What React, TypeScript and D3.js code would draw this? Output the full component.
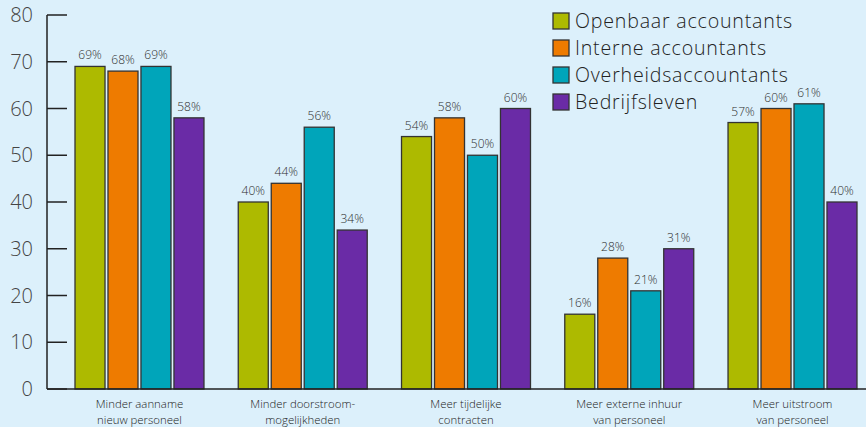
import React from "react";
import * as d3 from "d3";

const categories = [
  ["Minder aanname", "nieuw personeel"],
  ["Minder doorstroom-", "mogelijkheden"],
  ["Meer tijdelijke", "contracten"],
  ["Meer externe inhuur", "van personeel"],
  ["Meer uitstroom", "van personeel"],
];
const seriesNames = ["Openbaar accountants", "Interne accountants", "Overheidsaccountants", "Bedrijfsleven"];
const seriesColors = ["#adba00", "#ee7b00", "#00a5ba", "#6a2ba6"];
const openbaar = [69, 40, 54, 16, 57];
const interne = [68, 44, 58, 28, 60];
const overheid = [69, 56, 50, 21, 61];
const bedrijf = [58, 34, 60, 30, 40];
const openbaarLabels = ["69%", "40%", "54%", "16%", "57%"];
const interneLabels = ["68%", "44%", "58%", "28%", "60%"];
const overheidLabels = ["69%", "56%", "50%", "21%", "61%"];
const bedrijfLabels = ["58%", "34%", "60%", "31%", "40%"];
const yTicks = [0, 10, 20, 30, 40, 50, 60, 70, 80];

const W = 866, H = 427;
const FONT = "'Open Sans', Lato, sans-serif";

export default function App() {
  React.useEffect(() => { document.body.style.margin = "0"; }, []);
  const values = [openbaar, interne, overheid, bedrijf];
  const labels = [openbaarLabels, interneLabels, overheidLabels, bedrijfLabels];
  const catKeys = categories.map((c) => c.join(" "));
  const x = d3.scaleBand<string>().domain(catKeys).range([47, 885]).paddingInner(0.21).paddingOuter(0.1715);
  const xs = d3.scaleBand<string>().domain(seriesNames).range([0, x.bandwidth()]).paddingInner(0.09);
  const y = d3.scaleLinear().domain([0, 80]).range([389, 15]);
  return (
    <svg width={W} height={H} style={{ display: "block", background: "#dcf0fb" }} fontFamily={FONT}>
      <rect x={0} y={0} width={W} height={H} fill="#dcf0fb" />
      {yTicks.map((t) => (
        <g key={t}>
          <line x1={47} x2={67} y1={y(t)} y2={y(t)} stroke="#222" strokeWidth={1.5} />
          <text x={33} y={y(t)} dy="0.36em" textAnchor="end" fontSize={20} fill="#444" fontWeight={300}>{t}</text>
        </g>
      ))}
      {catKeys.map((k, ci) => (
        <g key={k} transform={`translate(${x(k)},0)`}>
          {seriesNames.map((s, si) => {
            const v = values[si][ci];
            const bx = xs(s)!;
            return (
              <g key={s}>
                <rect x={bx} y={y(v)} width={xs.bandwidth()} height={y(0) - y(v)} fill={seriesColors[si]} stroke="#333" strokeWidth={1.3} />
                <text x={bx + xs.bandwidth() / 2} y={y(v) - 7} textAnchor="middle" fontSize={12} fill="#2e2e2e" fontWeight={300}>{labels[si][ci]}</text>
              </g>
            );
          })}
          <text x={x.bandwidth() / 2} y={407.8} textAnchor="middle" fontSize={11.4} fill="#222" fontWeight={300}>{categories[ci][0]}</text>
          <text x={x.bandwidth() / 2} y={423.6} textAnchor="middle" fontSize={11.4} fill="#222" fontWeight={300}>{categories[ci][1]}</text>
        </g>
      ))}
      <line x1={47} x2={47} y1={y(80)} y2={y(0)} stroke="#222" strokeWidth={1.5} />
      <line x1={47} x2={W} y1={y(0)} y2={y(0)} stroke="#222" strokeWidth={1.5} />
      {seriesNames.map((s, i) => (
        <g key={s} transform={`translate(553,${13 + i * 27})`}>
          <rect x={0} y={0} width={16} height={16} fill={seriesColors[i]} stroke="#333" strokeWidth={1.3} />
          <text x={22} y={8} dy="0.36em" fontSize={19.6} letterSpacing={0.8} fill="#222" fontWeight={300}>{s}</text>
        </g>
      ))}
    </svg>
  );
}
